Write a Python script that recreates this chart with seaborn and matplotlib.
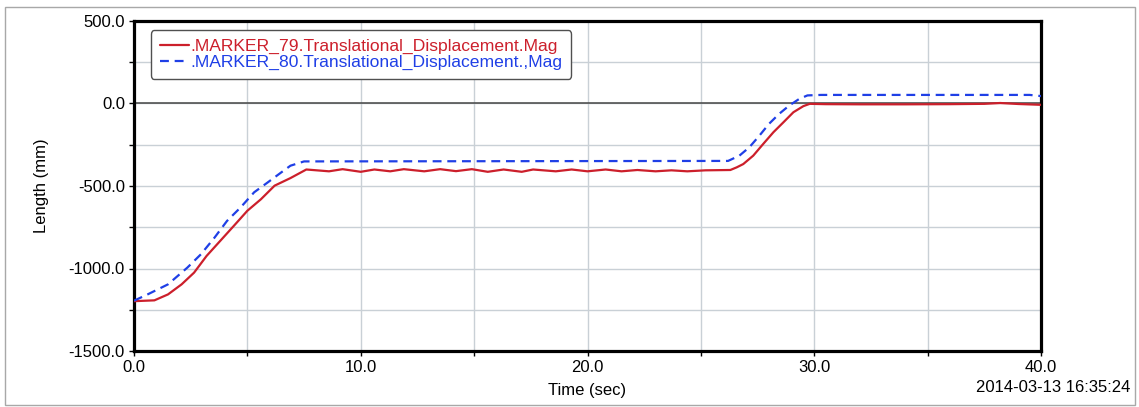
import numpy as np
import pandas as pd
import matplotlib
matplotlib.use("Agg")
import matplotlib.pyplot as plt
import seaborn as sns
from matplotlib.patches import Rectangle
from matplotlib.ticker import MultipleLocator, FormatStrFormatter

# ---------------- data ----------------
red_t = [0.0, 0.9, 1.5, 2.1, 2.65, 3.2, 3.8, 4.4, 5.0, 5.6, 6.2, 6.9, 7.6,
         8.6, 9.2, 10.0, 10.6, 11.3, 11.9, 12.8, 13.5, 14.2, 14.9, 15.6, 16.3,
         17.1, 17.6, 18.6, 19.3, 20.0, 20.8, 21.5, 22.2, 23.0, 23.7, 24.4,
         25.2, 26.3, 26.58, 26.87, 27.31, 27.75, 28.2, 28.64, 29.08, 29.52,
         29.8, 30.5, 32.0, 34.0, 36.0, 37.5, 38.2, 39.0, 40.0]
red_v = [-1198, -1193, -1157, -1096, -1025, -924, -833, -742, -650, -580,
         -498, -452, -400, -411, -398, -414, -400, -411, -398, -411, -398,
         -410, -398, -414, -400, -414, -400, -411, -400, -411, -400, -411,
         -403, -411, -405, -411, -405, -403, -387, -367, -316, -245, -174,
         -114, -53, -16, -2, -4, -5, -5, -4, -2, 3, -3, -8]

blue_t = [0.0, 0.6, 1.5, 2.35, 2.95, 3.55, 4.1, 4.7, 5.3, 5.9, 6.5, 6.9, 7.5,
          26.2, 26.7, 27.14, 27.58, 28.0, 28.45, 28.9, 29.34, 29.7, 30.3,
          39.5, 40.0]
blue_v = [-1195, -1157, -1096, -995, -914, -813, -712, -630, -538, -478,
          -417, -377, -351, -348, -316, -265, -195, -124, -63, -12, 28, 49,
          52, 52, 45]

red_label = ".MARKER_79.Translational_Displacement.Mag"
blue_label = ".MARKER_80.Translational_Displacement.,Mag"
x_label = "Time (sec)"
y_label = "Length (mm)"
stamp = "2014-03-13 16:35:24"

x_major = [0, 10, 20, 30, 40]
y_major = [-1500, -1000, -500, 0, 500]

# ---------------- style ----------------
sns.set_theme(style="white")
plt.rcParams["font.family"] = ["Liberation Sans", "DejaVu Sans"]

RED = "#cc1f2b"
BLUE = "#1f3fe6"

fig = plt.figure(figsize=(11.39, 4.07), dpi=100)
fig.patch.set_facecolor("white")
ax = fig.add_axes([134 / 1139, 1 - 351 / 407, (1041 - 134) / 1139, (351 - 21) / 407])

df_red = pd.DataFrame({"t": red_t, "v": red_v})
df_blue = pd.DataFrame({"t": blue_t, "v": blue_v})

ax.axhline(0, color="#454545", lw=1.1, zorder=1.5)
sns.lineplot(data=df_red, x="t", y="v", ax=ax, color=RED, lw=1.6,
             label=red_label, zorder=3, sort=False)
sns.lineplot(data=df_blue, x="t", y="v", ax=ax, color=BLUE, lw=1.6,
             label=blue_label, zorder=3, sort=False)
ax.lines[-1].set_dashes((4, 2.6))

ax.set_xlim(0, 40)
ax.set_ylim(-1500, 500)
ax.set_xticks(x_major)
ax.set_yticks(y_major)
ax.xaxis.set_minor_locator(MultipleLocator(5))
ax.yaxis.set_minor_locator(MultipleLocator(250))
ax.xaxis.set_major_formatter(FormatStrFormatter("%.1f"))
ax.yaxis.set_major_formatter(FormatStrFormatter("%.1f"))
ax.grid(True, which="both", color="#c9d0d6", lw=1.0, zorder=0)
ax.set_axisbelow(True)

ax.tick_params(axis="both", which="both", direction="out", length=3.5,
               width=1.0, color="black", bottom=True, left=True,
               labelsize=12, labelcolor="black", pad=3)
for s in ax.spines.values():
    s.set_visible(True)
    s.set_color("black")
    s.set_linewidth(2.3)

ax.set_xlabel(x_label, fontsize=12, color="black", labelpad=6)
ax.set_ylabel(y_label, fontsize=12, color="black", labelpad=14)

leg = ax.legend(loc="upper left", bbox_to_anchor=(0.0187, 0.972),
                borderaxespad=0, fontsize=12.6, handlelength=1.7,
                handletextpad=0.05, labelspacing=0.0, borderpad=0.5,
                frameon=True, fancybox=True, framealpha=1.0)
leg.get_frame().set_edgecolor("#505050")
leg.get_frame().set_linewidth(1.0)
for txt, c in zip(leg.get_texts(), [RED, BLUE]):
    txt.set_color(c)

fig.text(1130 / 1139, 1 - 388 / 407, stamp, ha="right", va="center",
         fontsize=12, color="black")

fig.add_artist(Rectangle((5 / 1139, 2 / 407), 1130 / 1139, 398 / 407,
                         transform=fig.transFigure, fill=False,
                         edgecolor="#a8a8a8", lw=1.0))

fig.savefig("out.png", dpi=100, facecolor="white")
